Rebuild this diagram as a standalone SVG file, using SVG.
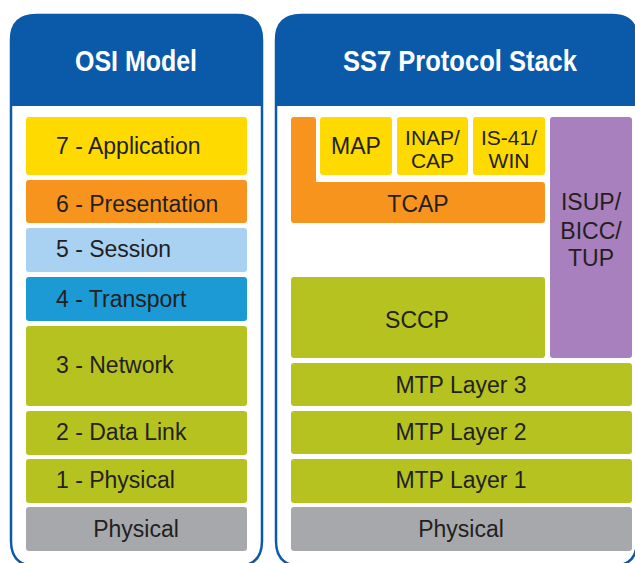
<svg xmlns="http://www.w3.org/2000/svg" width="635" height="563" viewBox="0 0 635 563">
<style>
.panel{fill:#ffffff;stroke:#0b5aaa;stroke-width:2.5}
.hdr{fill:#0b5aaa}
.htxt{font-family:"Liberation Sans",Arial,sans-serif;font-weight:bold;font-size:29px;fill:#ffffff;text-anchor:middle}
.lbl{font-family:"Liberation Sans",Arial,sans-serif;font-size:23px;fill:#231f20}
.sm{font-size:21px}
.c{text-anchor:middle}
.yel{fill:#ffda00}
.org{fill:#f7941e}
.lbl5{fill:#a9d1f2}
.blu{fill:#1b9ad6}
.olv{fill:#b5c21f}
.gry{fill:#a7a8ac}
.pur{fill:#a880be}
</style>
<rect width="635" height="563" fill="#ffffff"/>
<g id="osi-panel">
<path class="panel" d="M11,40 Q11,15 36,15 H237 Q262,15 262,40 V541 Q262,566 237,566 H36 Q11,566 11,541 Z"/>
<path class="hdr" d="M11,106 V40 Q11,15 36,15 H237 Q262,15 262,40 V106 Z"/>
<text class="htxt" x="136" y="71" textLength="122" lengthAdjust="spacingAndGlyphs">OSI Model</text>
</g>
<g id="ss7-panel">
<path class="panel" d="M276,40 Q276,15 301,15 H612 Q637,15 637,40 V541 Q637,566 612,566 H301 Q276,566 276,541 Z"/>
<path class="hdr" d="M276,106 V40 Q276,15 301,15 H612 Q637,15 637,40 V106 Z"/>
<text class="htxt" x="460" y="71" textLength="234" lengthAdjust="spacingAndGlyphs">SS7 Protocol Stack</text>
</g>
<g id="osi-7">
<rect class="yel" x="26" y="117" width="221" height="58" rx="3"/>
<text class="lbl" x="56" y="154">7 - Application</text>
</g>
<g id="osi-6">
<rect class="org" x="26" y="180" width="221" height="43" rx="3"/>
<text class="lbl" x="56" y="212">6 - Presentation</text>
</g>
<g id="osi-5">
<rect class="lbl5" x="26" y="228" width="221" height="44" rx="3"/>
<text class="lbl" x="56" y="257">5 - Session</text>
</g>
<g id="osi-4">
<rect class="blu" x="26" y="277" width="221" height="44" rx="3"/>
<text class="lbl" x="56" y="307">4 - Transport</text>
</g>
<g id="osi-3">
<rect class="olv" x="26" y="326" width="221" height="80" rx="3"/>
<text class="lbl" x="56" y="373">3 - Network</text>
</g>
<g id="osi-2">
<rect class="olv" x="26" y="411" width="221" height="44" rx="3"/>
<text class="lbl" x="56" y="440">2 - Data Link</text>
</g>
<g id="osi-1">
<rect class="olv" x="26" y="459" width="221" height="44" rx="3"/>
<text class="lbl" x="56" y="488">1 - Physical</text>
</g>
<g id="osi-phys">
<rect class="gry" x="26" y="507" width="221" height="44" rx="3"/>
<text class="lbl c" x="136" y="537">Physical</text>
</g>
<g id="tcap">
<path class="org" d="M294,117 H313 Q316,117 316,120 V182 H542 Q545,182 545,185 V220 Q545,223 542,223 H294 Q291,223 291,220 V120 Q291,117 294,117 Z"/>
<text class="lbl c" x="418" y="212">TCAP</text>
</g>
<g id="map">
<rect class="yel" x="320" y="117" width="72" height="58" rx="3"/>
<text class="lbl c" x="356" y="154">MAP</text>
</g>
<g id="inap">
<rect class="yel" x="397" y="117" width="71" height="58" rx="3"/>
<text class="lbl sm c" x="432.5" y="145">INAP/</text>
<text class="lbl sm c" x="432.5" y="168">CAP</text>
</g>
<g id="is41">
<rect class="yel" x="473" y="117" width="72" height="58" rx="3"/>
<text class="lbl sm c" x="509" y="145">IS-41/</text>
<text class="lbl sm c" x="509" y="168">WIN</text>
</g>
<g id="isup">
<rect class="pur" x="550" y="117" width="82" height="241" rx="3"/>
<text class="lbl c" x="591" y="210">ISUP/</text>
<text class="lbl c" x="591" y="239">BICC/</text>
<text class="lbl c" x="591" y="266">TUP</text>
</g>
<g id="sccp">
<rect class="olv" x="291" y="277" width="254" height="81" rx="3"/>
<text class="lbl c" x="417" y="328">SCCP</text>
</g>
<g id="mtp3">
<rect class="olv" x="291" y="363" width="341" height="43" rx="3"/>
<text class="lbl c" x="461" y="393">MTP Layer 3</text>
</g>
<g id="mtp2">
<rect class="olv" x="291" y="411" width="341" height="43" rx="3"/>
<text class="lbl c" x="461" y="440">MTP Layer 2</text>
</g>
<g id="mtp1">
<rect class="olv" x="291" y="459" width="341" height="44" rx="3"/>
<text class="lbl c" x="461" y="488">MTP Layer 1</text>
</g>
<g id="ss7-phys">
<rect class="gry" x="291" y="507" width="341" height="44" rx="3"/>
<text class="lbl c" x="461" y="537">Physical</text>
</g>
<g id="connectors"/>
</svg>
